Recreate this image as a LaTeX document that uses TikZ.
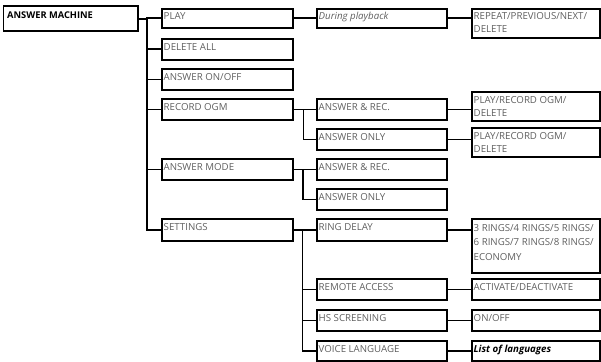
\documentclass[tikz,border=0pt]{standalone}
\usepackage{fontspec}
\setmainfont{Open Sans}
\usetikzlibrary{calc}
\definecolor{txtgray}{RGB}{95,95,95}
\tikzset{
  boxst/.style={draw=black, line width=1.8pt, inner sep=0pt, rectangle, anchor=north west},
  txt/.style={inner sep=0pt, text=txtgray, font=\fontsize{9.7}{12}\selectfont, anchor=base west},
  conn/.style={draw=black, line width=1.8pt, line cap=rect},
  thinconn/.style={draw=black, line width=0.9pt, line cap=rect},
}
\newcommand{\menubox}[5]{%
  \node[boxst, minimum width={#4pt-#2pt}, minimum height={#5pt-#3pt}] (#1) at (#2,#3) {};}
\newcommand{\menuline}[5]{%
  \node[txt] (#1) at ($(#2.north west)+(#3,#4)$) {#5};}
\begin{document}
\begin{tikzpicture}[x=1pt,y=-1pt]
\useasboundingbox (0,0) rectangle (601,361);
% column 1
\menubox{am}{2.5}{5.5}{137}{30}
\node[txt, text=black, font=\fontsize{9.3}{12}\selectfont\bfseries] (amt) at ($(am.north west)+(4.5,13.5)$) {ANSWER MACHINE};
% column 2
\menubox{play}{161}{8}{292}{27}
\menubox{delall}{161}{38}{292}{59}
\menubox{onoff}{161}{68}{292}{89}
\menubox{rec}{161}{98}{292}{119}
\menubox{mode}{161}{158}{292}{179}
\menubox{settings}{161}{218}{292}{240}
\menuline{playt}{play}{2.5}{12}{PLAY}
\menuline{delallt}{delall}{2.5}{12}{DELETE ALL}
\menuline{onofft}{onoff}{2.5}{12}{ANSWER ON/OFF}
\menuline{rect}{rec}{2.5}{12}{RECORD OGM}
\menuline{modet}{mode}{2.5}{12}{ANSWER MODE}
\menuline{settingst}{settings}{2.5}{12}{SETTINGS}
% column 3
\menubox{during}{316}{8}{446}{27}
\menubox{arA}{316}{98}{446}{119}
\menubox{aoA}{316}{128}{446}{149}
\menubox{arB}{316}{158}{446}{179}
\menubox{aoB}{316}{188}{446}{209}
\menubox{ring}{316}{218}{446}{240}
\menubox{remote}{316}{278}{446}{299}
\menubox{hs}{316}{309}{446}{330}
\menubox{voice}{316}{340}{446}{360}
\menuline{duringt}{during}{2.5}{12}{\itshape During playback}
\menuline{arAt}{arA}{2.5}{12}{ANSWER \& REC.}
\menuline{aoAt}{aoA}{2.5}{12}{ANSWER ONLY}
\menuline{arBt}{arB}{2.5}{12}{ANSWER \& REC.}
\menuline{aoBt}{aoB}{2.5}{12}{ANSWER ONLY}
\menuline{ringt}{ring}{2.5}{12}{RING DELAY}
\menuline{remotet}{remote}{2.5}{12}{REMOTE ACCESS}
\menuline{hst}{hs}{2.5}{12}{HS SCREENING}
\menuline{voicet}{voice}{2.5}{12}{VOICE LANGUAGE}
% column 4
\menubox{rep}{471}{8}{599}{37}
\menubox{prA}{471}{91}{599}{120}
\menubox{prB}{471}{127}{599}{156}
\menubox{ringres}{471}{218}{599}{272}
\menubox{act}{471}{278}{599}{299}
\menubox{onoffB}{471}{309}{599}{330}
\menubox{lang}{471}{340}{599}{360}
\menuline{repta}{rep}{2.5}{12}{REPEAT/PREVIOUS/NEXT/}
\menuline{reptb}{rep}{2.5}{25}{DELETE}
\menuline{prAta}{prA}{2.5}{12}{PLAY/RECORD OGM/}
\menuline{prAtb}{prA}{2.5}{25}{DELETE}
\menuline{prBta}{prB}{2.5}{12}{PLAY/RECORD OGM/}
\menuline{prBtb}{prB}{2.5}{25}{DELETE}
\menuline{ringresta}{ringres}{2.5}{13}{3 RINGS/4 RINGS/5 RINGS/}
\menuline{ringrestb}{ringres}{2.5}{27.5}{6 RINGS/7 RINGS/8 RINGS/}
\menuline{ringrestc}{ringres}{2.5}{42}{ECONOMY}
\menuline{actt}{act}{2.5}{12}{ACTIVATE/DEACTIVATE}
\menuline{onoffBt}{onoffB}{2.5}{12}{ON/OFF}
\node[txt, text=black, font=\fontsize{9.7}{12}\selectfont\bfseries\itshape] (langt) at ($(lang.north west)+(2.5,12)$) {List of languages};
% main trunk
\coordinate (tk) at (147,0);
\draw[conn] (am.east) -- (am.east -| tk) |- (settings.west);
\foreach \n in {play,delall,onoff,rec,mode}
  \draw[conn] (\n.west -| tk) -- (\n.west);
% play branch
\draw[conn] (play.east) -- (during.west);
\draw[conn] (during.east) -- (during.east -| rep.west);
% record ogm branch
\coordinate (sbA) at (303,0);
\draw[conn] (rec.east) -- (arA.west);
\draw[thinconn] (rec.east -| sbA) |- (aoA.west);
\draw[conn] (arA.east) -- (arA.east -| prA.west);
\draw[conn] (aoA.east) -- (aoA.east -| prB.west);
% answer mode branch
\draw[conn] (mode.east) -- (arB.west);
\draw[conn] (mode.east -| sbA) |- (aoB.west);
% settings branch
\coordinate (sbB) at (302.5,0);
\draw[conn] (settings.east) -- (settings.east -| ring.west);
\draw[thinconn] (settings.east -| sbB) -- (voice.west -| sbB);
\foreach \n in {remote,hs,voice}
  \draw[conn] (\n.west -| sbB) -- (\n.west);
\draw[conn] (ring.east) -- (ring.east -| ringres.west);
\draw[conn] (remote.east) -- (act.west);
\draw[conn] (hs.east) -- (onoffB.west);
\draw[conn] (voice.east) -- (lang.west);
\end{tikzpicture}
\end{document}
